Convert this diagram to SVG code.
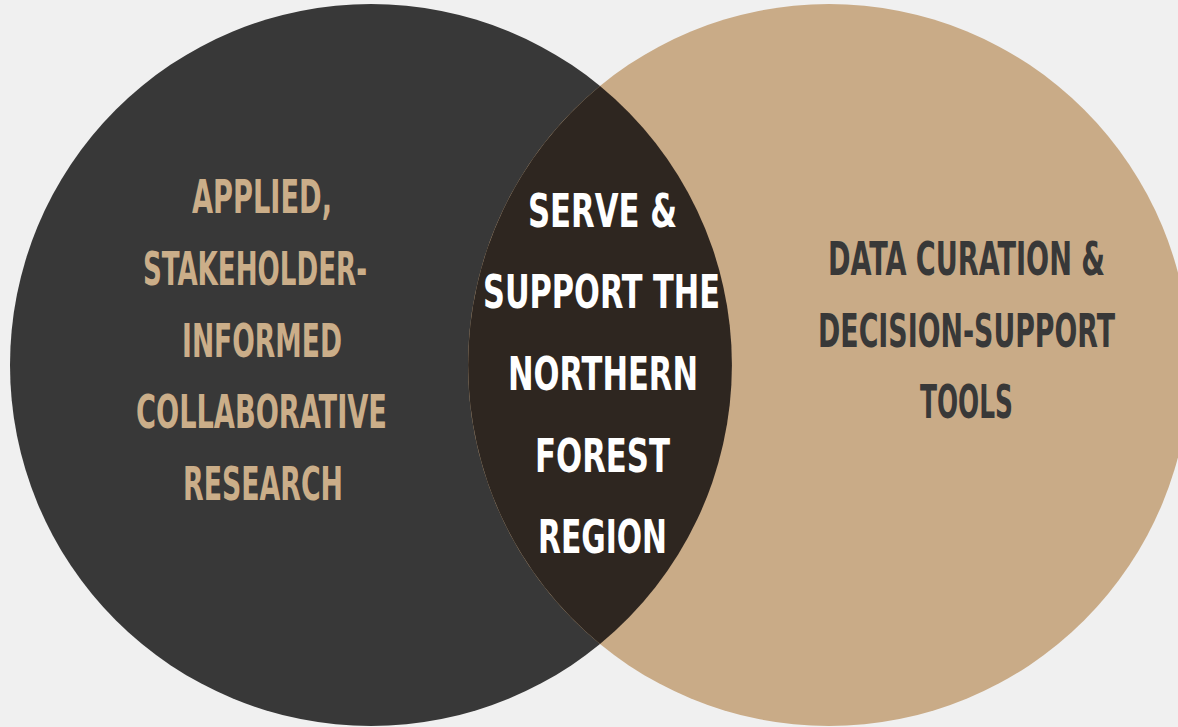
<svg xmlns="http://www.w3.org/2000/svg" width="1178" height="727" viewBox="0 0 1178 727">
<style>
.t{font-family:"Liberation Sans Narrow","DejaVu Sans Condensed","Liberation Sans",sans-serif;font-weight:bold;font-size:47px;text-anchor:middle}
.tan{fill:#cbae89}
.wh{fill:#ffffff}
.dk{fill:#383838}
</style>
<rect width="1178" height="727" fill="#f0f0f0"/>
<g id="left">
<circle cx="371" cy="365" r="361" fill="#383838"/>
</g>
<g id="right">
<circle cx="829" cy="365" r="361" fill="#c9ab87"/>
</g>
<g id="center">
<path d="M600 86 A361 361 0 0 1 600 644 A361 361 0 0 1 600 86 Z" fill="#2e2620"/>
</g>
<g id="left-label">
<text class="t tan" x="262" y="213" textLength="140" lengthAdjust="spacingAndGlyphs">APPLIED,</text>
<text class="t tan" x="255" y="285" textLength="224" lengthAdjust="spacingAndGlyphs">STAKEHOLDER-</text>
<text class="t tan" x="262" y="357" textLength="160" lengthAdjust="spacingAndGlyphs">INFORMED</text>
<text class="t tan" x="261.5" y="428" textLength="251" lengthAdjust="spacingAndGlyphs">COLLABORATIVE</text>
<text class="t tan" x="263" y="500" textLength="160" lengthAdjust="spacingAndGlyphs">RESEARCH</text>
</g>
<g id="center-label">
<text class="t wh" x="602.5" y="227" textLength="149" lengthAdjust="spacingAndGlyphs">SERVE &amp;</text>
<text class="t wh" x="601.5" y="308" textLength="237" lengthAdjust="spacingAndGlyphs">SUPPORT THE</text>
<text class="t wh" x="603" y="390" textLength="190" lengthAdjust="spacingAndGlyphs">NORTHERN</text>
<text class="t wh" x="602.5" y="472" textLength="135" lengthAdjust="spacingAndGlyphs">FOREST</text>
<text class="t wh" x="602.5" y="553" textLength="129" lengthAdjust="spacingAndGlyphs">REGION</text>
</g>
<g id="right-label">
<text class="t dk" x="966.5" y="275" textLength="277" lengthAdjust="spacingAndGlyphs">DATA CURATION &amp;</text>
<text class="t dk" x="966.5" y="347" textLength="297" lengthAdjust="spacingAndGlyphs">DECISION-SUPPORT</text>
<text class="t dk" x="966.5" y="418" textLength="93" lengthAdjust="spacingAndGlyphs">TOOLS</text>
</g>
</svg>
